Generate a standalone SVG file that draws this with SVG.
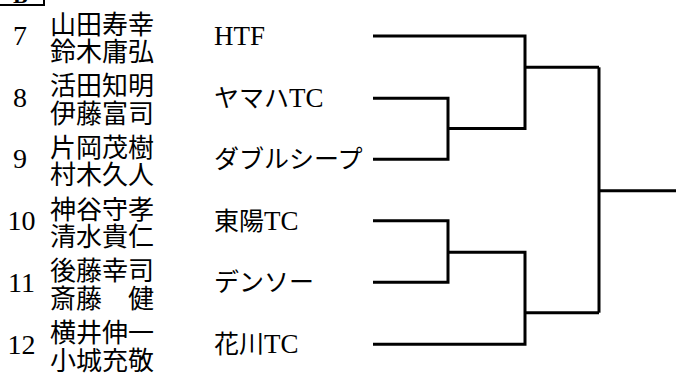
<svg xmlns="http://www.w3.org/2000/svg" width="684" height="374" viewBox="0 0 684 374">
<style>
  .num { font-family: "Liberation Serif", "Noto Sans CJK JP", serif; font-size: 28px; fill: #000; text-anchor: middle; }
  .name { font-family: "Liberation Serif", "Noto Sans CJK JP", serif; font-size: 26px; fill: #000; }
  .team { font-family: "Liberation Serif", "Noto Sans CJK JP", serif; font-size: 25px; fill: #000; }
  .lat { font-size: 27px; }
  .br { fill: none; stroke: #000; stroke-width: 3; stroke-linejoin: miter; stroke-linecap: butt; }
</style>
<rect width="684" height="374" fill="#fff"/>
<g id="header">
  <rect x="-2" y="-20" width="46" height="25" fill="none" stroke="#000" stroke-width="2"/>
  <text x="13" y="3" style="font-family:'Liberation Serif',serif;font-size:22px;font-weight:bold;">B</text>
</g>
<g id="entry7">
  <text class="num" x="20" y="45">7</text>
  <text class="name" x="50" y="33.5">山田寿幸</text>
  <text class="name" x="50" y="61">鈴木庸弘</text>
  <text class="team" x="214" y="45"><tspan class="lat">HTF</tspan></text>
</g>
<g id="entry8">
  <text class="num" x="20" y="106.7">8</text>
  <text class="name" x="50" y="95.2">活田知明</text>
  <text class="name" x="50" y="122.7">伊藤富司</text>
  <text class="team" x="214" y="107.3">ヤマハ<tspan class="lat">TC</tspan></text>
</g>
<g id="entry9">
  <text class="num" x="20" y="168.4">9</text>
  <text class="name" x="50" y="156.9">片岡茂樹</text>
  <text class="name" x="50" y="184.4">村木久人</text>
  <text class="team" x="214" y="168.3">ダブルシープ</text>
</g>
<g id="entry10">
  <text class="num" x="21.5" y="230.1">10</text>
  <text class="name" x="50" y="218.6">神谷守孝</text>
  <text class="name" x="50" y="246.1">清水貴仁</text>
  <text class="team" x="214" y="229.7">東陽<tspan class="lat">TC</tspan></text>
</g>
<g id="entry11">
  <text class="num" x="21.5" y="291.8">11</text>
  <text class="name" x="50" y="280.3">後藤幸司</text>
  <text class="name" x="50" y="307.8">斎藤　健</text>
  <text class="team" x="214" y="291.3">デンソー</text>
</g>
<g id="entry12">
  <text class="num" x="21.5" y="353.5">12</text>
  <text class="name" x="50" y="342">横井伸一</text>
  <text class="name" x="50" y="369.5">小城充敬</text>
  <text class="team" x="214" y="353.3">花川<tspan class="lat">TC</tspan></text>
</g>
<g id="connectors">
  <path class="br" d="M373 36 H525 V128.5 H448"/>
  <path class="br" d="M373 98.3 H448 V159.3 H373"/>
  <path class="br" d="M525 67.3 H599"/>
  <path class="br" d="M373 220.7 H448 V282.3 H373"/>
  <path class="br" d="M448 252.3 H525 V344.3 H373"/>
  <path class="br" d="M525 312.7 H599"/>
  <path class="br" d="M599 67.3 V312.7"/>
  <path class="br" d="M599 190.7 H676"/>
</g>
</svg>
